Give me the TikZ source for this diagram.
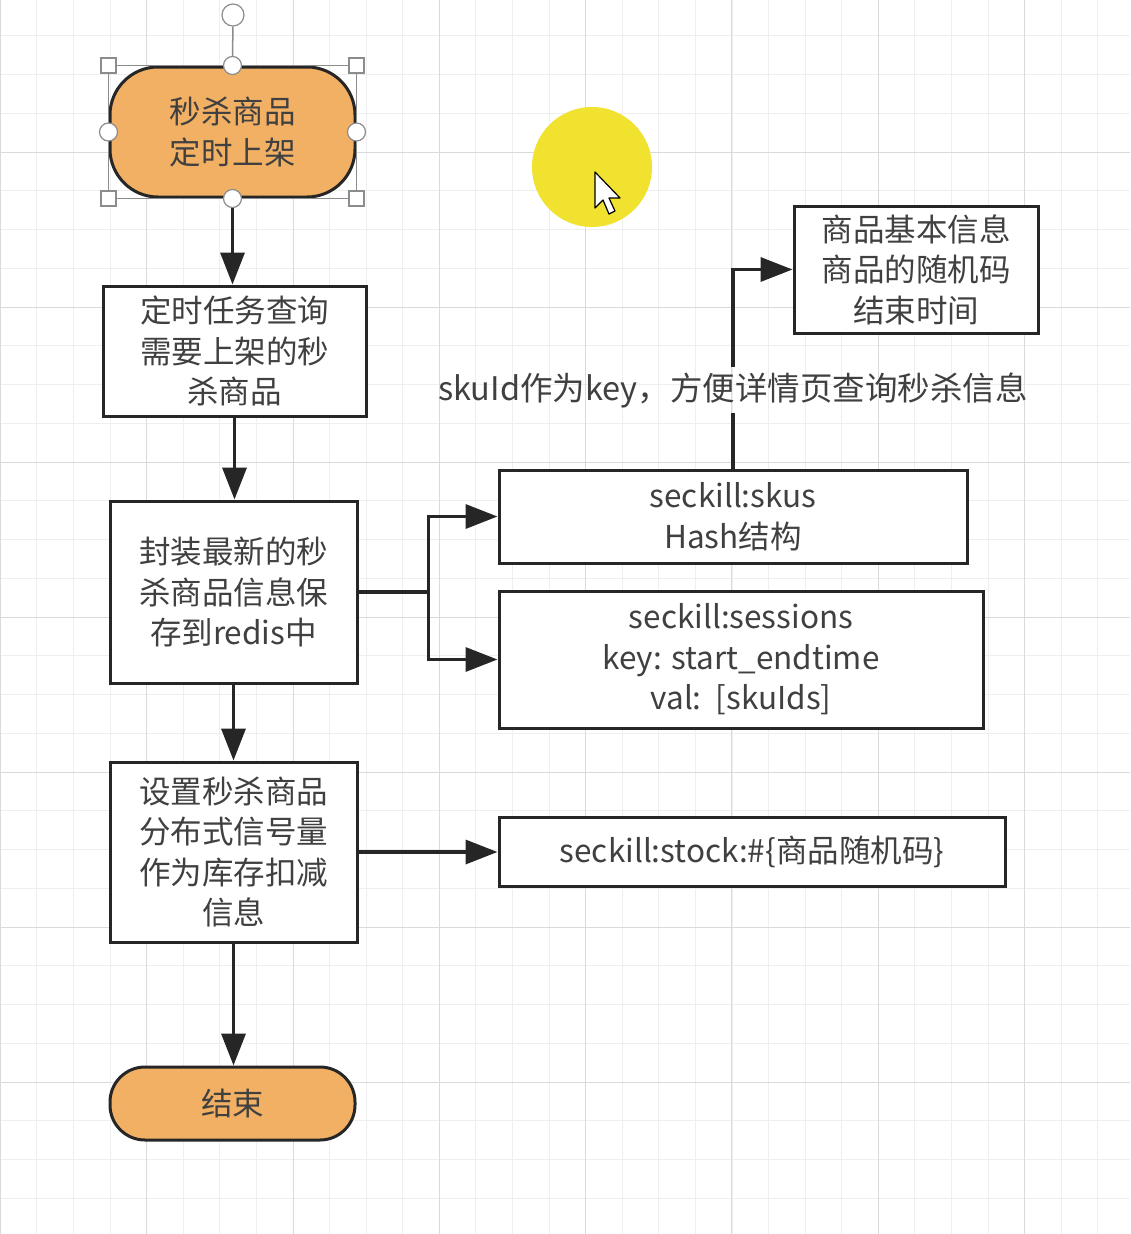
\documentclass[tikz,border=0pt]{standalone}
\usepackage{fontspec}
\setmainfont{Noto Sans CJK SC}
\usepackage{xcolor}
\usepackage{tikz}
\usetikzlibrary{arrows.meta,positioning,calc}
\definecolor{pillfill}{HTML}{F2B064}
\definecolor{darkline}{HTML}{262626}
\definecolor{txtgray}{HTML}{404040}
\definecolor{gridlt}{HTML}{EFEFEF}
\definecolor{griddk}{HTML}{DADADA}
\definecolor{hilite}{HTML}{F0E22E}
\definecolor{handle}{HTML}{8C8C8C}
\tikzset{
  box/.style={draw=darkline, line width=3pt, fill=white, align=center, inner sep=0pt,
    text=txtgray, font=\fontsize{31.5}{40.5}\selectfont},
  pill/.style={box, fill=pillfill},
  flow/.style={draw=darkline, line width=3.5pt, -{Triangle[length=32pt,width=24pt]}},
  gridminor/.style={draw=gridlt, line width=1pt},
  gridmajor/.style={draw=griddk, line width=1pt},
  sqhandle/.style={draw=handle, fill=white, line width=1.2pt, inner sep=0pt, minimum size=15pt},
  cirhandle/.style={circle, draw=handle, fill=white, line width=1.2pt, inner sep=0pt, minimum size=18pt},
}

\begin{document}
\begin{tikzpicture}[x=1pt, y=-1pt]
      \useasboundingbox (0,0) rectangle (1130,1234);
      \fill[white] (0,0) rectangle (1130,1234);
      % grid paper
      \foreach \i in {0,...,31} \draw[gridminor] ({0.4+36.58*\i},0) -- ++(0,1234);
      \foreach \j in {0,...,32} \draw[gridminor] (0,{-3+38.75*\j}) -- ++(1130,0);
      \foreach \i in {0,...,7} \draw[gridmajor] ({0.4+146.3*\i},0) -- ++(0,1234);
      \foreach \j in {0,...,8} \draw[gridmajor] (0,{-3+155*\j}) -- ++(1130,0);

      % cursor highlight
      \fill[hilite] (592,167) circle (60);
      \draw[black, fill=white, line width=1.2pt, line join=round]
        (595,172) -- ++(0,36) -- ++(8,-8) -- ++(6,14) -- ++(6,-3) -- ++(-6,-13) -- ++(11,0) -- cycle;

      % flow nodes
      \node[pill, rounded corners=48pt, minimum width=245pt, minimum height=130pt] (start) at (232.5,132) {秒杀商品\\定时上架};
      \node[box, minimum width=263pt, minimum height=130pt] (task) at (234.5,351) {定时任务查询\\需要上架的秒\\杀商品};
      \node[box, minimum width=247pt, minimum height=182pt] (pack) at (233.5,592) {封装最新的秒\\杀商品信息保\\存到redis中};
      \node[box, minimum width=247pt, minimum height=180pt] (sema) at (233.5,852) {设置秒杀商品\\分布式信号量\\作为库存扣减\\信息};
      \node[pill, rounded corners=35pt, minimum width=245pt, minimum height=73pt] (done) at (232.5,1103.5) {结束};

      % redis nodes
      \node[box, minimum width=468pt, minimum height=93pt] (skus) at (733,516.5) {seckill:skus\\Hash结构};
      \node[box, minimum width=484pt, minimum height=137pt] (sess) at (741,659.5) {seckill:sessions\\key: start\_endtime\\val:~~[skuIds]};
      \node[box, minimum width=506pt, minimum height=69pt] (stock) at (752,851.5) {seckill:stock:\#\{商品随机码\}};
      \node[box, minimum width=244pt, minimum height=127pt] (info) at (916,269.5) {商品基本信息\\商品的随机码\\结束时间};
      \node[text=txtgray, font=\fontsize{32.5}{40}\selectfont, inner sep=5pt] (note) at (733,390) {skuId作为key，方便详情页查询秒杀信息};

      % connectors
      \coordinate (split) at ($(pack.east)+(70,0)$);
      \draw[flow] (start.south) -- (start.south |- task.north);
      \draw[flow] (task.south) -- (task.south |- pack.north);
      \draw[flow] (pack.south) -- (pack.south |- sema.north);
      \draw[flow] (sema.south) -- (sema.south |- done.north);
      \draw[flow] (pack.east) -- (split) |- (skus.west);
      \draw[flow] (split) |- (sess.west);
      \draw[flow] (sema.east) -- (sema.east -| stock.west);
      \draw[draw=darkline, line width=3.5pt] (skus.north) -- (note.south);
      \draw[flow] (note.north) |- (info.west);

      % selection handles on the start node
      \draw[handle, line width=1pt] (start.north west) rectangle (start.south east);
      \node[cirhandle, minimum size=22pt] (rot) at (233,15) {};
      \draw[handle, line width=1.5pt] (rot) -- (start.north);
      \foreach \a in {north west, north east, south west, south east}
        \node[sqhandle] at (start.\a) {};
      \foreach \a in {north, south, east, west}
        \node[cirhandle] at (start.\a) {};
    \end{tikzpicture}
\end{document}
